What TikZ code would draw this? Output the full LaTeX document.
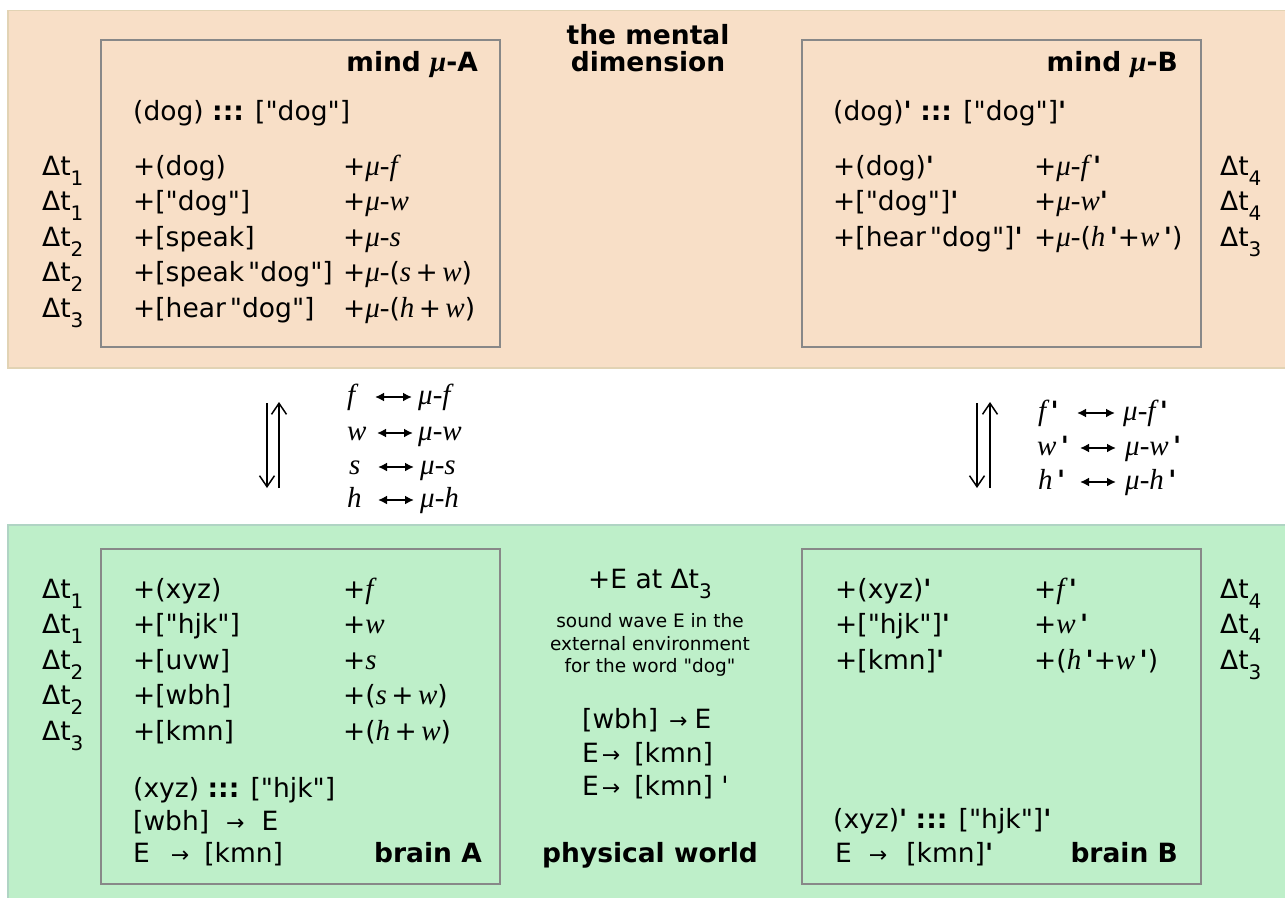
\documentclass[tikz,border=0pt]{standalone}
\usepackage{fontspec}
\setmainfont{DejaVu Sans}
\newfontfamily\lserif{Liberation Serif}
\usetikzlibrary{arrows.meta}
\definecolor{peach}{RGB}{248,223,199}
\definecolor{peachline}{RGB}{226,211,180}
\definecolor{mint}{RGB}{190,239,201}
\definecolor{mintline}{RGB}{176,212,196}
\definecolor{boxline}{RGB}{136,136,136}
\newcommand\qq{\textquotedbl}
\newcommand\pr{{\bfseries\textquotesingle}}
\newcommand\mth[1]{{\lserif\itshape\fontsize{29}{29}\selectfont #1}}
\newcommand\dtt[1]{Δt\raisebox{-10pt}{\fontsize{20}{20}\selectfont #1}}
\newcommand\rarr{{\fontsize{22}{22}\selectfont →}}
\tikzset{
  txt/.style={anchor=base west, inner sep=0pt, font=\fontsize{26.5}{30}\selectfont},
  txtc/.style={anchor=base, inner sep=0pt, font=\fontsize{26.5}{30}\selectfont},
  ttl/.style={anchor=base east, inner sep=0pt, font=\fontsize{26.5}{30}\selectfont\bfseries},
  small/.style={anchor=base, inner sep=0pt, font=\fontsize{18.5}{22}\selectfont},
  panel/.style={draw=boxline, line width=2pt, inner sep=0pt, anchor=north west},
  varr/.style={line width=1.5pt, -{Straight Barb[length=11pt,width=15pt,line width=1.5pt]}},
  harr/.style={line width=2pt, {Latex[length=9pt,width=9pt]}-{Latex[length=9pt,width=9pt]}}
}
\begin{document}
\begin{tikzpicture}[x=1pt,y=-1pt]
\useasboundingbox (0,0) rectangle (1285,897);
% bands
\fill[peach] (8,10.5) rectangle (1292,368);
\draw[peachline, line width=1.5pt] (1292,10.5) -- (8,10.5) -- (8,368) -- (1292,368);
\fill[mint] (8,525) rectangle (1292,905);
\draw[mintline, line width=1.5pt] (1292,525) -- (8,525) -- (8,905);
% panels
\node[panel, minimum width=399pt, minimum height=307pt] (mindA) at (100,39) {};
\node[panel, minimum width=399pt, minimum height=307pt] (mindB) at (801,39) {};
\node[panel, minimum width=399pt, minimum height=335pt] (brainA) at (100,548) {};
\node[panel, minimum width=399pt, minimum height=335pt] (brainB) at (801,548) {};

% ---------------- mind A
\node[ttl] (tA) at (478,71) {mind \mth{μ}-A};
\node[txt] (eqA) at (133,120) {(dog) \textbf{:::} [\qq dog\qq]};
\node[txt] (a1) at (133,175) {+(dog)};
\node[txt] (a2) at (133,210.5) {+[\qq dog\qq]};
\node[txt] (a3) at (133,246) {+[speak]};
\node[txt] (a4) at (133,281.5) {+[speak\hspace{4pt}\qq dog\qq]};
\node[txt] (a5) at (133,317) {+[hear\hspace{4pt}\qq dog\qq]};
\node[txt] (am1) at (343,175) {+\mth{μ-f}};
\node[txt] (am2) at (343,210.5) {+\mth{μ-w}};
\node[txt] (am3) at (343,246) {+\mth{μ-s}};
\node[txt] (am4) at (343,281.5) {+\mth{μ-}(\mth{s}\,+\,\mth{w})};
\node[txt] (am5) at (343,317) {+\mth{μ-}(\mth{h}\,+\,\mth{w})};
\node[txt] (ta1) at (42,175) {\dtt{1}};
\node[txt] (ta2) at (42,210.5) {\dtt{1}};
\node[txt] (ta3) at (42,246) {\dtt{2}};
\node[txt] (ta4) at (42,281.5) {\dtt{2}};
\node[txt] (ta5) at (42,317) {\dtt{3}};

% ---------------- mental dimension
\node[txtc, font=\fontsize{26.5}{30}\selectfont\bfseries] (md1) at (648,44) {the mental};
\node[txtc, font=\fontsize{26.5}{30}\selectfont\bfseries] (md2) at (648,71) {dimension};

% ---------------- mind B
\node[ttl] (tB) at (1178,71) {mind \mth{μ}-B};
\node[txt] (eqB) at (833,120) {(dog)\pr{} \textbf{:::} [\qq dog\qq]\pr};
\node[txt] (b1) at (833,175) {+(dog)\pr};
\node[txt] (b2) at (833,210.5) {+[\qq dog\qq]\pr};
\node[txt] (b3) at (833,246) {+[hear\hspace{4pt}\qq dog\qq]\pr};
\node[txt] (bm1) at (1034,175) {+\mth{μ-f}\,\pr};
\node[txt] (bm2) at (1034,210.5) {+\mth{μ-w}\pr};
\node[txt] (bm3) at (1034,246) {+\mth{μ-}(\mth{h}\,\pr+\mth{w}\,\pr)};
\node[txt] (tb1) at (1220,175) {\dtt{4}};
\node[txt] (tb2) at (1220,210.5) {\dtt{4}};
\node[txt] (tb3) at (1220,246) {\dtt{3}};

% ---------------- middle left
\coordinate (vAt) at (267,403);
\coordinate (vAb) at (267,488);
\coordinate (uAb) at (279,488);
\coordinate (uAt) at (279,402);
\draw[varr] (vAt) -- (vAb);
\draw[varr] (uAb) -- (uAt);
\node[txt] (lf) at (347,404) {\mth{f}};
\node[txt] (lw) at (347,440) {\mth{w}};
\node[txt] (ls) at (349,474) {\mth{s}};
\node[txt] (lh) at (347,507) {\mth{h}};
\node[txt] (rf) at (418,404) {\mth{μ-f}};
\node[txt] (rw) at (418,440) {\mth{μ-w}};
\node[txt] (rs) at (420,474) {\mth{μ-s}};
\node[txt] (rh) at (420,507) {\mth{μ-h}};
\coordinate (h1a) at (375,397); \coordinate (h1b) at (412,397);
\coordinate (h2a) at (377,433); \coordinate (h2b) at (413,433);
\coordinate (h3a) at (378,467); \coordinate (h3b) at (414,467);
\coordinate (h4a) at (378,500); \coordinate (h4b) at (414,500);
\draw[harr] (h1a) -- (h1b);
\draw[harr] (h2a) -- (h2b);
\draw[harr] (h3a) -- (h3b);
\draw[harr] (h4a) -- (h4b);

% ---------------- middle right
\coordinate (vBt) at (977,403);
\coordinate (vBb) at (977,488);
\coordinate (uBb) at (990,488);
\coordinate (uBt) at (990,402);
\draw[varr] (vBt) -- (vBb);
\draw[varr] (uBb) -- (uBt);
\node[txt] (lf2) at (1038,420) {\mth{f}\,\pr};
\node[txt] (lw2) at (1037,455) {\mth{w}\,\pr};
\node[txt] (lh2) at (1038,489) {\mth{h}\,\pr};
\node[txt] (rf2) at (1123,420) {\mth{μ-f}\,\pr};
\node[txt] (rw2) at (1125,455) {\mth{μ-w}\,\pr};
\node[txt] (rh2) at (1125,489) {\mth{μ-h}\,\pr};
\coordinate (k1a) at (1077,413); \coordinate (k1b) at (1115,413);
\coordinate (k2a) at (1080,448); \coordinate (k2b) at (1116,448);
\coordinate (k3a) at (1080,482); \coordinate (k3b) at (1116,482);
\draw[harr] (k1a) -- (k1b);
\draw[harr] (k2a) -- (k2b);
\draw[harr] (k3a) -- (k3b);

% ---------------- brain A
\node[txt] (c1) at (133,598) {+(xyz)};
\node[txt] (c2) at (133,633.5) {+[\qq hjk\qq]};
\node[txt] (c3) at (133,669) {+[uvw]};
\node[txt] (c4) at (133,704.5) {+[wbh]};
\node[txt] (c5) at (133,740) {+[kmn]};
\node[txt] (cm1) at (343,598) {+\mth{f}};
\node[txt] (cm2) at (343,633.5) {+\mth{w}};
\node[txt] (cm3) at (343,669) {+\mth{s}};
\node[txt] (cm4) at (343,704.5) {+(\mth{s}\,+\,\mth{w})};
\node[txt] (cm5) at (343,740) {+(\mth{h}\,+\,\mth{w})};
\node[txt] (tc1) at (42,598) {\dtt{1}};
\node[txt] (tc2) at (42,633.5) {\dtt{1}};
\node[txt] (tc3) at (42,669) {\dtt{2}};
\node[txt] (tc4) at (42,704.5) {\dtt{2}};
\node[txt] (tc5) at (42,740) {\dtt{3}};
\node[txt] (eqC) at (133,797) {(xyz) \textbf{:::} [\qq hjk\qq]};
\node[txt] (c6) at (133,830) {[wbh]\hspace{17pt}\rarr\hspace{17pt}E};
\node[txt] (c7) at (133,862) {E\hspace{21pt}\rarr\hspace{15pt}[kmn]};
\node[ttl] (tbA) at (482,862) {brain A};

% ---------------- physical world
\node[txtc] (pE) at (650,588) {+E at \dtt{3}};
\node[small] (s1) at (650,627) {sound wave E in the};
\node[small] (s2) at (650,650) {external environment};
\node[small] (s3) at (650,672) {for the word \qq dog\qq};
\node[txt] (p1) at (582,728) {[wbh]\hspace{11pt}\rarr\hspace{7pt}E};
\node[txt] (p2) at (582,762) {E\hspace{3pt}\rarr\hspace{14pt}[kmn]};
\node[txt] (p3) at (582,795) {E\hspace{3pt}\rarr\hspace{14pt}[kmn] \textquotesingle};
\node[txtc, font=\fontsize{26.5}{30}\selectfont\bfseries] (pw) at (650,862) {physical world};

% ---------------- brain B
\node[txt] (d1) at (835,598) {+(xyz)\pr};
\node[txt] (d2) at (835,633.5) {+[\qq hjk\qq]\pr};
\node[txt] (d3) at (835,669) {+[kmn]\pr};
\node[txt] (dm1) at (1034,598) {+\mth{f}\,\pr};
\node[txt] (dm2) at (1034,633.5) {+\mth{w}\,\pr};
\node[txt] (dm3) at (1034,669) {+(\mth{h}\,\pr+\mth{w}\,\pr)};
\node[txt] (td1) at (1220,598) {\dtt{4}};
\node[txt] (td2) at (1220,633.5) {\dtt{4}};
\node[txt] (td3) at (1220,669) {\dtt{3}};
\node[txt] (eqD) at (833,828) {(xyz)\pr{} \textbf{:::} [\qq hjk\qq]\pr};
\node[txt] (d4) at (835,862) {E\hspace{17pt}\rarr\hspace{19pt}[kmn]\pr};
\node[ttl] (tbB) at (1178,862) {brain B};
\end{tikzpicture}
\end{document}
